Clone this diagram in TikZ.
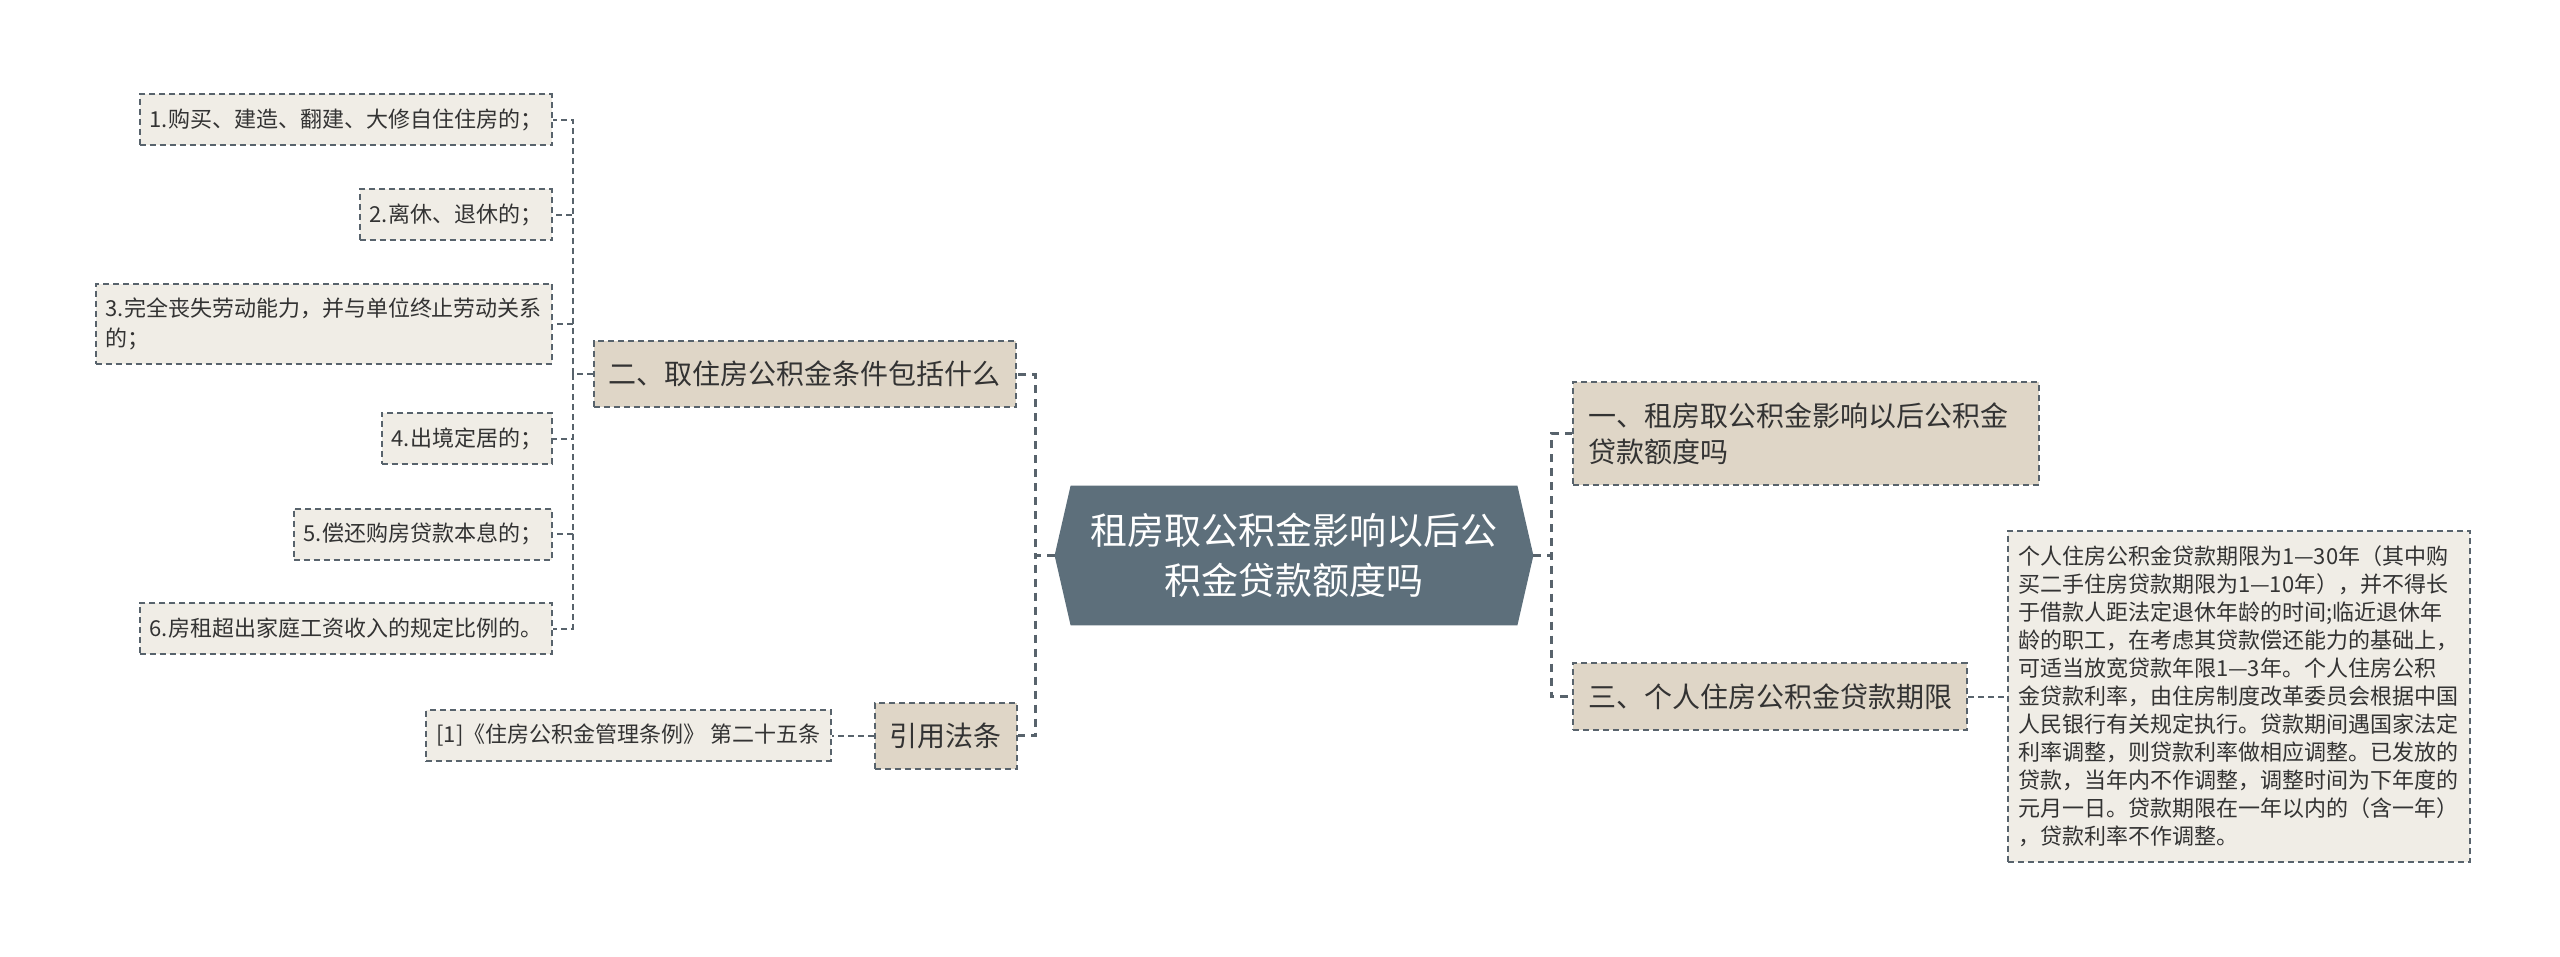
\documentclass[tikz,border=0pt]{standalone}
\usepackage{fontspec}
\setmainfont{Noto Sans CJK SC}
\usetikzlibrary{positioning, backgrounds}

\definecolor{slate}{HTML}{5D6F7B}
\definecolor{sand}{HTML}{DFD6C7}
\definecolor{paper}{HTML}{F0EDE6}
\definecolor{rim}{HTML}{58636C}
\definecolor{ink}{HTML}{333333}

\begin{document}
\begin{tikzpicture}[
    x=0.5pt, y=-0.5pt,
    root/.style={inner sep=0pt, minimum width=223pt, minimum height=69.5pt, align=center, text=white, font=\fontsize{18.5}{25}\selectfont},
    mid/.style={draw=rim, line width=1pt, dash pattern=on 3pt off 2pt, fill=sand, text=ink, inner xsep=7.5pt, inner ysep=10pt, minimum height=33pt, align=left, font=\fontsize{14}{18}\selectfont},
    leaf/.style={draw=rim, line width=1pt, dash pattern=on 3pt off 2pt, fill=paper, text=ink, inner xsep=5pt, inner ysep=7pt, minimum height=25.5pt, align=left, font=\fontsize{11}{15}\selectfont}]

  \tikzset{link/.style={rim, dash pattern=on 3pt off 2pt}}
  \tikzset{trunk/.style={link, line width=1.5pt, dash pattern=on 4pt off 3pt}}
  \tikzset{twig/.style={link, line width=1pt}}

  \useasboundingbox (0, 0) rectangle (2560, 957);

  % root
  \node[root] at (1294, 555.5) (root) {租房取公积金影响以后公\\积金贷款额度吗};
  \coordinate (rootL) at ([xshift=-8pt]root.west);
  \coordinate (rootR) at ([xshift=8pt]root.east);
  \begin{scope}[on background layer]
    \fill[slate] (root.north west) -- (root.north east) -- (rootR) -- (root.south east) -- (root.south west) -- (rootL) -- cycle;
  \end{scope}

  % left branches
  \node[mid] at (804.5, 374) (n2) {二、取住房公积金条件包括什么};
  \node[mid] at (945.5, 735.5) (law) {引用法条};
  \node[leaf, left=21pt of law] (ref) {[1]《住房公积金管理条例》 第二十五条};

  \node[leaf, anchor=east] at (553, 120) (c1) {1.购买、建造、翻建、大修自住住房的；};
  \node[leaf, anchor=east] at (553, 215) (c2) {2.离休、退休的；};
  \node[leaf, anchor=east] at (553, 324) (c3) {3.完全丧失劳动能力，并与单位终止劳动关系\\的；};
  \node[leaf, anchor=east] at (553, 438.5) (c4) {4.出境定居的；};
  \node[leaf, anchor=east] at (553, 534) (c5) {5.偿还购房贷款本息的；};
  \node[leaf, anchor=east] at (553, 628.5) (c6) {6.房租超出家庭工资收入的规定比例的。};

  % right branches
  \node[mid, anchor=west, text width=218pt] at (1572, 433.5) (n1) {一、租房取公积金影响以后公积金\\贷款额度吗};
  \node[mid, anchor=west] at (1572, 696.5) (n3) {三、个人住房公积金贷款期限};
  \node[leaf, right=19.5pt of n3, text width=221pt, inner xsep=5pt, inner ysep=7.5pt, font=\fontsize{11}{14}\selectfont] (term) {个人住房公积金贷款期限为1—30年（其中购\\买二手住房贷款期限为1—10年），并不得长\\于借款人距法定退休年龄的时间;临近退休年\\龄的职工，在考虑其贷款偿还能力的基础上，\\可适当放宽贷款年限1—3年。个人住房公积\\金贷款利率，由住房制度改革委员会根据中国\\人民银行有关规定执行。贷款期间遇国家法定\\利率调整，则贷款利率做相应调整。已发放的\\贷款，当年内不作调整，调整时间为下年度的\\元月一日。贷款期限在一年以内的（含一年）\\，贷款利率不作调整。};

  % trunk links
  \draw[trunk] (rootL) -- ++(-19, 0) |- (n2.east);
  \draw[trunk] (rootL) -- ++(-19, 0) |- (law.east);
  \draw[trunk] (rootR) -- ++(18, 0) |- (n1.west);
  \draw[trunk] (rootR) -- ++(18, 0) |- (n3.west);

  % leaf links
  \foreach \i in {1,...,6}
    \draw[twig] (n2.west) -- ++(-20, 0) |- (c\i.east);
  \draw[twig] (law.west) -- (ref.east);
  \draw[twig] (n3.east) -- (term.west);
\end{tikzpicture}
\end{document}
